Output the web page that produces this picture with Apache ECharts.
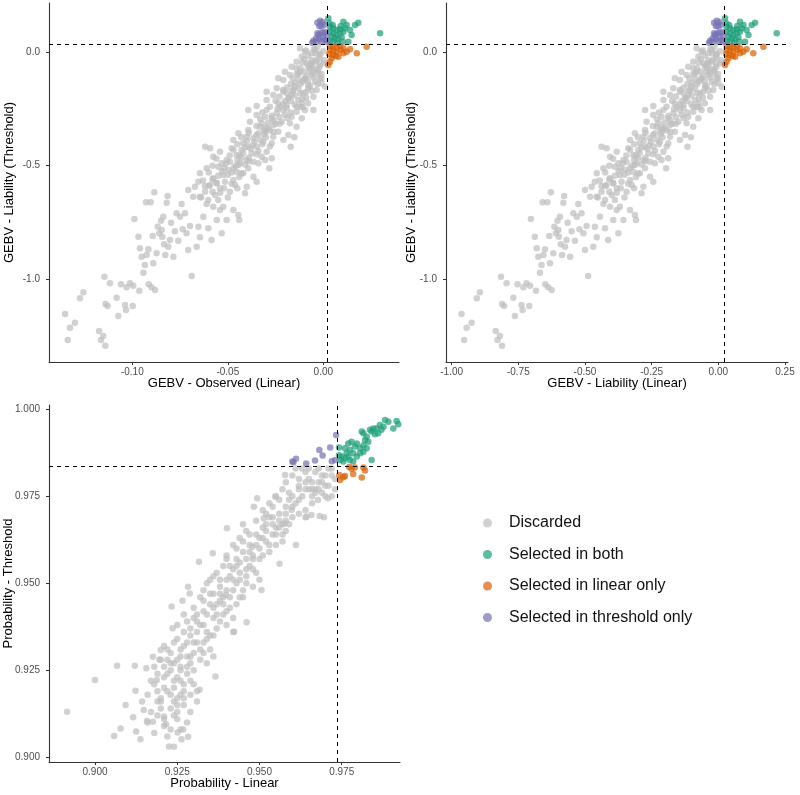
<!DOCTYPE html>
<html>
<head>
<meta charset="utf-8">
<script src="https://cdn.jsdelivr.net/npm/echarts@6/dist/echarts.min.js"></script>
<style>
  html, body { margin: 0; padding: 0; background: #fff; }
  #container { width: 800px; height: 795px; }
</style>
</head>
<body>
<div id="container"></div>
<script>
var groups = ['Discarded', 'Selected in both', 'Selected in linear only', 'Selected in threshold only'];

// GEBV per individual: [observed linear, liability linear, liability threshold]
var liabDiscarded = [
  [-0.1352,-0.963,-1.1544],[-0.1338,-0.953,-1.2691],[-0.1326,-0.944,-1.2147],[-0.1300,-0.925,-1.1926],
  [-0.1274,-0.906,-1.0853],[-0.1256,-0.894,-1.0588],[-0.1174,-0.835,-1.2294],[-0.1164,-0.828,-1.2691],
  [-0.1152,-0.819,-1.2515],[-0.1141,-0.811,-1.2941],[-0.1146,-0.815,-0.9897],[-0.1141,-0.811,-1.1103],
  [-0.1129,-0.803,-1.1191],[-0.1117,-0.794,-1.0191],[-0.1082,-0.769,-1.0824],[-0.1073,-0.763,-1.1632],
  [-0.1059,-0.753,-1.0235],[-0.1038,-0.738,-1.1147],[-0.1033,-0.734,-1.1368],[-0.1030,-0.731,-1.0368],
  [-0.1012,-0.719,-1.0191],[-0.0998,-0.709,-1.1191],[-0.0995,-0.706,-1.0294],[-0.0989,-0.703,-0.7353],
  [-0.0968,-0.688,-0.8132],[-0.0963,-0.684,-1.0515],[-0.0960,-0.681,-0.8647],[-0.0951,-0.675,-0.9015],
  [-0.0942,-0.669,-0.9721],[-0.0934,-0.663,-0.9382],[-0.0928,-0.659,-0.6618],[-0.0925,-0.656,-0.8941],
  [-0.0916,-0.650,-0.8691],[-0.0914,-0.649,-1.0235],[-0.0904,-0.641,-0.6618],[-0.0899,-0.638,-1.0368],
  [-0.0885,-0.628,-0.6176],[-0.0881,-0.625,-1.0485],[-0.0893,-0.634,-0.8103],[-0.0890,-0.631,-0.9309],
  [-0.0873,-0.619,-0.8868],[-0.0867,-0.615,-0.7691],[-0.0859,-0.609,-0.7985],[-0.0850,-0.603,-0.7426],
  [-0.0846,-0.600,-0.7838],[-0.0843,-0.598,-0.8132],[-0.0838,-0.594,-0.7250],[-0.0834,-0.591,-0.8471],
  [-0.0827,-0.586,-0.8941],[-0.0820,-0.581,-0.6632],[-0.0815,-0.578,-0.6338],[-0.0812,-0.575,-0.8574],
  [-0.0803,-0.569,-0.8279],[-0.0797,-0.565,-0.7515],[-0.0785,-0.556,-0.9015],[-0.0777,-0.550,-0.7897],
  [-0.0768,-0.544,-0.7103],[-0.0759,-0.538,-0.8309],[-0.0750,-0.531,-0.7250],[-0.0742,-0.525,-0.6691],
  [-0.0736,-0.521,-0.7809],[-0.0724,-0.513,-0.7103],[-0.0716,-0.506,-0.7985],[-0.0707,-0.500,-0.8721],
  [-0.0698,-0.494,-0.7662],[-0.0689,-0.488,-0.9868],[-0.0681,-0.481,-0.6368],[-0.0663,-0.469,-0.8574],
  [-0.0654,-0.463,-0.7691],[-0.0646,-0.456,-0.8162],[-0.0628,-0.444,-0.7250],[-0.0611,-0.431,-0.6691],
  [-0.0602,-0.425,-0.7765],[-0.0585,-0.413,-0.8279],[-0.0576,-0.406,-0.6809],[-0.0558,-0.394,-0.7397],
  [-0.0550,-0.388,-0.6515],[-0.0541,-0.381,-0.6956],[-0.0532,-0.375,-0.7985],[-0.0524,-0.369,-0.6809],
  [-0.0506,-0.356,-0.7397],[-0.0471,-0.331,-0.6956],[-0.0445,-0.313,-0.7176],[-0.0440,-0.309,-0.7397],
  [-0.0410,-0.288,-0.6221],
  [-0.0707,-0.500,-0.6074],[-0.0672,-0.475,-0.5926],[-0.0646,-0.456,-0.6368],[-0.0619,-0.438,-0.6147],
  [-0.0593,-0.419,-0.5853],[-0.0567,-0.400,-0.6294],[-0.0541,-0.381,-0.6000],[-0.0515,-0.363,-0.5706],
  [-0.0489,-0.344,-0.6147],[-0.0462,-0.325,-0.5853],[-0.0654,-0.463,-0.5706],[-0.0602,-0.425,-0.6515],
  [-0.0646,-0.456,-0.5338],[-0.0611,-0.431,-0.5118],[-0.0576,-0.406,-0.5559],[-0.0550,-0.388,-0.5044],
  [-0.0524,-0.369,-0.5412],[-0.0497,-0.350,-0.5191],[-0.0471,-0.331,-0.5632],[-0.0445,-0.313,-0.4971],
  [-0.0419,-0.294,-0.5338],[-0.0393,-0.275,-0.5118],[-0.0366,-0.256,-0.5485],[-0.0340,-0.238,-0.4897],
  [-0.0558,-0.394,-0.5779],[-0.0454,-0.319,-0.5265],[-0.0489,-0.344,-0.4824],
  [-0.0576,-0.406,-0.4603],[-0.0541,-0.381,-0.4382],[-0.0506,-0.356,-0.4750],[-0.0480,-0.338,-0.4235],
  [-0.0454,-0.319,-0.4529],[-0.0428,-0.300,-0.4309],[-0.0401,-0.281,-0.4750],[-0.0375,-0.263,-0.4456],
  [-0.0349,-0.244,-0.4162],[-0.0323,-0.225,-0.4603],[-0.0297,-0.206,-0.4382],[-0.0436,-0.306,-0.4897],
  [-0.0393,-0.275,-0.4162],[-0.0532,-0.375,-0.4897],[-0.0270,-0.188,-0.4676],[-0.0366,-0.256,-0.4824],
  [-0.0471,-0.331,-0.3868],[-0.0445,-0.313,-0.3574],[-0.0419,-0.294,-0.4015],[-0.0393,-0.275,-0.3426],
  [-0.0366,-0.256,-0.3794],[-0.0340,-0.238,-0.3574],[-0.0314,-0.219,-0.3941],[-0.0288,-0.200,-0.3353],
  [-0.0262,-0.181,-0.3721],[-0.0236,-0.163,-0.3500],[-0.0209,-0.144,-0.3868],[-0.0332,-0.231,-0.3279],
  [-0.0401,-0.281,-0.3721],[-0.0270,-0.188,-0.4015],[-0.0183,-0.125,-0.3647],[-0.0305,-0.213,-0.3500],
  [-0.0384,-0.269,-0.3059],[-0.0349,-0.244,-0.2765],[-0.0323,-0.225,-0.3132],[-0.0297,-0.206,-0.2544],
  [-0.0270,-0.188,-0.2912],[-0.0244,-0.169,-0.2691],[-0.0218,-0.150,-0.3059],[-0.0192,-0.131,-0.2471],
  [-0.0166,-0.113,-0.2838],[-0.0140,-0.094,-0.2618],[-0.0113,-0.075,-0.2912],[-0.0262,-0.181,-0.3206],
  [-0.0175,-0.119,-0.3132],[-0.0227,-0.156,-0.2397],[-0.0305,-0.213,-0.2838],[-0.0096,-0.063,-0.2544],
  [-0.0297,-0.206,-0.2103],[-0.0262,-0.181,-0.1882],[-0.0236,-0.163,-0.2250],[-0.0209,-0.144,-0.1735],
  [-0.0183,-0.125,-0.2029],[-0.0157,-0.106,-0.1662],[-0.0131,-0.088,-0.2103],[-0.0105,-0.069,-0.1809],
  [-0.0079,-0.050,-0.1588],[-0.0052,-0.031,-0.1956],[-0.0192,-0.131,-0.2324],[-0.0244,-0.169,-0.1588],
  [-0.0113,-0.075,-0.2250],[-0.0035,-0.019,-0.1662],[-0.0166,-0.113,-0.1882],
  [-0.0209,-0.144,-0.1221],[-0.0175,-0.119,-0.1000],[-0.0148,-0.100,-0.1368],[-0.0122,-0.081,-0.0853],
  [-0.0096,-0.063,-0.1147],[-0.0070,-0.044,-0.0706],[-0.0044,-0.025,-0.1294],[-0.0026,-0.013,-0.0926],
  [-0.0009,0.000,-0.1368],[-0.0140,-0.094,-0.0706],[-0.0079,-0.050,-0.1441],[-0.0052,-0.031,-0.0853],
  [-0.0166,-0.113,-0.0632],
  [-0.0140,-0.094,-0.0412],[-0.0113,-0.075,-0.0191],[-0.0087,-0.056,-0.0485],[-0.0061,-0.038,-0.0044],
  [-0.0035,-0.019,-0.0338],[-0.0017,-0.006,-0.0118],[0.0000,0.006,-0.0485],[-0.0096,-0.063,0.0029],
  [-0.0044,-0.025,0.0103],[-0.0070,-0.044,-0.0559],
  [-0.0619,-0.438,-0.4162],[-0.0593,-0.419,-0.4235],[-0.0393,-0.275,-0.2544],[-0.0349,-0.244,-0.2368],
  [-0.0297,-0.206,-0.1735],[-0.0236,-0.163,-0.1147],[-0.0201,-0.138,-0.0853],[-0.0122,-0.081,0.0176],
  [-0.0152,-0.103,-0.3750],[-0.0108,-0.071,-0.2426],[-0.0017,-0.006,-0.1147],[0.0009,0.013,-0.1515],
  [-0.0052,-0.031,-0.2544],[-0.0140,-0.094,-0.3279],[-0.0171,-0.116,-0.4162],[-0.0305,-0.213,-0.4750],
  [-0.0283,-0.196,-0.5118],[-0.0401,-0.281,-0.5926],[-0.0349,-0.244,-0.5706],
  [-0.0600,-0.424,-0.590],[-0.0560,-0.395,-0.575],[-0.0520,-0.366,-0.600],[-0.0630,-0.445,-0.565],
  [-0.0480,-0.338,-0.580],[-0.0580,-0.409,-0.615],
  [-0.0580,-0.409,-0.500],[-0.0560,-0.395,-0.470],[-0.0530,-0.374,-0.525],[-0.0510,-0.359,-0.490],
  [-0.0490,-0.345,-0.455],[-0.0470,-0.331,-0.510],[-0.0450,-0.316,-0.475],[-0.0430,-0.302,-0.535],
  [-0.0410,-0.288,-0.495],[-0.0390,-0.273,-0.465],[-0.0440,-0.309,-0.455],[-0.0500,-0.352,-0.540],
  [-0.0600,-0.424,-0.530],
  [-0.0470,-0.331,-0.430],[-0.0450,-0.316,-0.405],[-0.0420,-0.295,-0.445],[-0.0400,-0.280,-0.390],
  [-0.0380,-0.266,-0.425],[-0.0360,-0.252,-0.395],[-0.0340,-0.237,-0.435],[-0.0320,-0.223,-0.405],
  [-0.0300,-0.209,-0.375],[-0.0280,-0.194,-0.415],[-0.0350,-0.245,-0.365],[-0.0390,-0.273,-0.355],
  [-0.0430,-0.302,-0.375],
  [-0.0350,-0.245,-0.325],[-0.0330,-0.230,-0.295],[-0.0310,-0.216,-0.340],[-0.0290,-0.202,-0.310],
  [-0.0270,-0.187,-0.280],[-0.0250,-0.173,-0.315],[-0.0230,-0.159,-0.285],[-0.0210,-0.144,-0.255],
  [-0.0190,-0.130,-0.290],[-0.0170,-0.116,-0.265],[-0.0280,-0.194,-0.345],[-0.0320,-0.223,-0.265],
  [-0.0250,-0.173,-0.215],[-0.0230,-0.159,-0.195],[-0.0210,-0.144,-0.230],[-0.0190,-0.130,-0.180],
  [-0.0170,-0.116,-0.215],[-0.0150,-0.101,-0.190],[-0.0130,-0.087,-0.160],[-0.0110,-0.073,-0.205],
  [-0.0090,-0.058,-0.175],[-0.0070,-0.044,-0.150],[-0.0140,-0.094,-0.240],[-0.0210,-0.144,-0.165],
  [-0.0160,-0.109,-0.115],[-0.0130,-0.087,-0.095],[-0.0110,-0.073,-0.130],[-0.0090,-0.058,-0.105],
  [-0.0070,-0.044,-0.085],[-0.0050,-0.030,-0.110],[-0.0030,-0.015,-0.080],[-0.0010,-0.001,-0.095],
  [-0.0120,-0.080,-0.070],[-0.0060,-0.037,-0.060],[-0.0020,-0.008,-0.055],
  [-0.0100,-0.066,-0.030],[-0.0080,-0.051,-0.015],[-0.0060,-0.037,-0.035],[-0.0040,-0.023,-0.005],
  [-0.0020,-0.008,-0.025],[0.0000,0.006,0.005],[-0.0050,-0.030,0.015],[-0.0090,-0.058,0.008],
  [-0.0030,-0.015,0.025],[0.0005,0.010,-0.035],
  [-0.0120,-0.080,-0.140],[-0.0100,-0.066,-0.120],[-0.0080,-0.051,-0.125],[-0.0060,-0.037,-0.100],
  [-0.0040,-0.023,-0.075],[-0.0020,-0.008,-0.065],[-0.0150,-0.101,-0.150],[-0.0130,-0.087,-0.120],
  [-0.0100,-0.066,-0.085],[-0.0080,-0.051,-0.060],[-0.0060,-0.037,-0.045],[-0.0040,-0.023,-0.040],
  [-0.0020,-0.008,-0.005],[-0.0110,-0.073,-0.045],[-0.0140,-0.094,-0.095],[-0.0170,-0.116,-0.140],
  [-0.0190,-0.130,-0.155],[-0.0160,-0.109,-0.170],[-0.0120,-0.080,-0.180],[-0.0090,-0.058,-0.200],
  [-0.0060,-0.037,-0.170],[-0.0030,-0.015,-0.140],[-0.0010,-0.001,-0.115],[-0.0180,-0.123,-0.200],
  [-0.0200,-0.137,-0.215],[-0.0150,-0.101,-0.230],[-0.0120,-0.080,-0.240],[-0.0080,-0.051,-0.225],
  [-0.0230,-0.159,-0.315],[-0.0260,-0.180,-0.300],[-0.0300,-0.209,-0.330],[-0.0200,-0.137,-0.275],
  [-0.0240,-0.166,-0.250],[-0.0280,-0.194,-0.240],[-0.0330,-0.230,-0.385],[-0.0370,-0.259,-0.410],
  [-0.0410,-0.288,-0.420],[-0.0310,-0.216,-0.360],[-0.0260,-0.180,-0.350],[-0.0350,-0.245,-0.450],
  [-0.0390,-0.273,-0.480],[-0.0430,-0.302,-0.465],[-0.0460,-0.323,-0.500],[-0.0520,-0.366,-0.510],
  [-0.0550,-0.388,-0.545],[-0.0480,-0.338,-0.530],[-0.0440,-0.309,-0.550],[-0.0580,-0.409,-0.560],
  [-0.0620,-0.438,-0.590],[-0.0540,-0.381,-0.620],[-0.0500,-0.352,-0.640],[-0.0640,-0.452,-0.640],
  [-0.0450,-0.316,-0.600]
];

var liabBoth = [
  [0.0026,0.025,0.1500],[0.0105,0.081,0.1353],[0.0122,0.094,0.1206],[0.0166,0.125,0.1206],
  [0.0183,0.138,0.1309],[0.0148,0.113,0.0765],[0.0131,0.100,0.0471],[0.0297,0.219,0.0838],
  [0.0035,0.031,0.1132],[0.0052,0.044,0.1059],[0.0070,0.056,0.0985],[0.0087,0.069,0.1015],
  [0.0035,0.031,0.0912],[0.0052,0.044,0.0838],[0.0070,0.056,0.0765],[0.0087,0.069,0.0838],
  [0.0105,0.081,0.0912],[0.0044,0.038,0.0691],[0.0061,0.050,0.0618],[0.0079,0.063,0.0574],
  [0.0096,0.075,0.0662],[0.0035,0.031,0.0515],[0.0052,0.044,0.0471],[0.0073,0.059,0.0426],
  [0.0101,0.079,0.0471],[0.0031,0.029,0.1279],[0.0049,0.041,0.1206],[0.0113,0.088,0.1059],
  [0.0140,0.106,0.0985],[0.0091,0.071,0.1162]
];

var liabLinOnly = [
  [0.0227,0.169,0.0250],[0.0175,0.131,-0.0044],[0.0122,0.094,0.0029],[0.0105,0.081,-0.0044],
  [0.0079,0.063,-0.0191],[0.0035,0.031,-0.0412],[0.0026,0.025,-0.0559],[0.0035,0.031,0.0279],
  [0.0052,0.044,0.0250],[0.0070,0.056,0.0221],[0.0087,0.069,0.0279],[0.0035,0.031,0.0103],
  [0.0052,0.044,0.0074],[0.0070,0.056,0.0029],[0.0091,0.071,0.0103],[0.0031,0.029,-0.0074],
  [0.0049,0.041,-0.0118],[0.0066,0.054,-0.0162],[0.0044,0.038,-0.0265],[0.0105,0.081,0.0176],
  [0.0140,0.106,0.0132]
];

var liabThrOnly = [
  [-0.0031,-0.016,0.1309],[-0.0017,-0.006,0.1397],[-0.0003,0.004,0.1338],[0.0005,0.010,0.1221],
  [-0.0021,-0.009,0.1162],[-0.0009,0.000,0.1132],[-0.0052,-0.031,0.0515],[-0.0038,-0.021,0.0618],
  [-0.0026,-0.013,0.0765],[-0.0014,-0.004,0.0838],[0.0000,0.006,0.0868],[0.0014,0.016,0.0897],
  [0.0017,0.019,0.0721],[-0.0003,0.004,0.0662],[-0.0021,-0.009,0.0574],[-0.0038,-0.021,0.0471],
  [0.0009,0.013,0.0544],[0.0017,0.019,0.0471],[-0.0009,0.000,0.0471],[-0.0031,-0.016,0.0838],
  [-0.0058,-0.035,0.0426]
];

// probabilities per individual: [linear, threshold]
var probDiscarded = [
  [0.8915,0.9131],[0.9000,0.9222],[0.9067,0.9263],[0.9058,0.9061],[0.9078,0.9083],[0.9093,0.9150],
  [0.9116,0.9115],[0.9121,0.9263],[0.9123,0.9191],[0.9125,0.9074],[0.9138,0.9052],[0.9143,0.9160],
  [0.9148,0.9136],[0.9156,0.9256],[0.9158,0.9104],[0.9176,0.9289],[0.9176,0.9102],[0.9180,0.9260],
  [0.9188,0.9222],[0.9196,0.9281],[0.9200,0.9308],[0.9210,0.9117],[0.9216,0.9095],[0.9225,0.9031],
  [0.9233,0.9433],[0.9236,0.9371],[0.9251,0.9071],[0.9263,0.9052],[0.9266,0.9450],[0.9268,0.9080],
  [0.9283,0.9059],[0.9283,0.9490],[0.9288,0.9471],[0.9316,0.9562],[0.9318,0.9194],[0.9358,0.9586],
  [0.9366,0.9232],[0.9398,0.9466],[0.9401,0.9658],[0.9423,0.9361],[0.9461,0.9388],[0.9478,0.9605],
  [0.9483,0.9720],[0.9493,0.9744],[0.9506,0.9481],[0.9513,0.9687],[0.9548,0.9749],[0.9561,0.9556],
  [0.9576,0.9672],[0.9578,0.9811],[0.9598,0.9711],[0.9611,0.9610],[0.9643,0.9691],[0.9658,0.9696],
  [0.9683,0.9693],[0.9696,0.9690],[0.9708,0.9744],[0.9678,0.9739],
  [0.919,0.912],[0.921,0.909],[0.923,0.914],[0.925,0.911],[0.927,0.915],[0.922,0.906],[0.926,0.908],
  [0.929,0.913],[0.924,0.903],[0.917,0.913],[0.920,0.916],
  [0.916,0.918],[0.918,0.921],[0.920,0.917],[0.921,0.923],[0.922,0.919],[0.923,0.925],[0.924,0.920],
  [0.925,0.917],[0.926,0.922],[0.927,0.919],[0.928,0.924],[0.929,0.918],[0.930,0.921],[0.919,0.924],
  [0.931,0.916],[0.924,0.916],[0.922,0.928],
  [0.920,0.928],[0.921,0.932],[0.923,0.930],[0.924,0.927],[0.925,0.934],[0.926,0.929],[0.927,0.932],
  [0.928,0.926],[0.929,0.935],[0.930,0.930],[0.932,0.928],[0.933,0.933],[0.935,0.931],[0.931,0.936],
  [0.934,0.927],[0.926,0.925],
  [0.925,0.938],[0.927,0.941],[0.929,0.937],[0.930,0.943],[0.931,0.939],[0.933,0.942],[0.934,0.936],
  [0.935,0.944],[0.936,0.940],[0.937,0.937],[0.938,0.945],[0.939,0.941],[0.940,0.938],[0.941,0.943],
  [0.932,0.946],[0.942,0.936],
  [0.933,0.948],[0.935,0.951],[0.936,0.947],[0.937,0.953],[0.938,0.949],[0.939,0.955],[0.940,0.951],
  [0.941,0.946],[0.942,0.954],[0.943,0.950],[0.944,0.956],[0.945,0.948],[0.946,0.952],[0.947,0.955],
  [0.948,0.949],[0.940,0.957],[0.949,0.953],
  [0.940,0.958],[0.942,0.961],[0.943,0.957],[0.944,0.963],[0.945,0.959],[0.946,0.965],[0.947,0.961],
  [0.948,0.958],[0.949,0.964],[0.950,0.960],[0.951,0.966],[0.952,0.962],[0.953,0.959],[0.954,0.964],
  [0.955,0.961],[0.956,0.966],[0.945,0.967],
  [0.949,0.968],[0.951,0.971],[0.952,0.967],[0.953,0.973],[0.954,0.969],[0.955,0.975],[0.956,0.970],
  [0.957,0.967],[0.958,0.972],[0.959,0.976],[0.960,0.969],[0.961,0.973],[0.962,0.970],[0.963,0.975],
  [0.964,0.971],[0.965,0.977],[0.957,0.977],
  [0.958,0.979],[0.960,0.981],[0.962,0.978],[0.963,0.983],[0.965,0.980],[0.966,0.977],[0.967,0.982],
  [0.968,0.979],[0.969,0.976],[0.970,0.981],[0.971,0.978],[0.972,0.983],[0.972,0.975],[0.973,0.980],
  [0.961,0.983],[0.968,0.983],[0.973,0.977],
  [0.918,0.907],[0.921,0.911],[0.925,0.913],[0.928,0.910],[0.923,0.908],[0.916,0.910],
  [0.917,0.922],[0.919,0.919],[0.921,0.920],[0.923,0.918],[0.925,0.923],[0.927,0.921],[0.929,0.922],
  [0.931,0.919],[0.922,0.924],[0.926,0.918],
  [0.922,0.931],[0.924,0.933],[0.926,0.931],[0.928,0.929],[0.930,0.933],[0.932,0.931],[0.934,0.934],
  [0.936,0.929],[0.929,0.927],[0.925,0.928],
  [0.928,0.939],[0.930,0.940],[0.932,0.938],[0.934,0.941],[0.936,0.943],[0.938,0.939],[0.940,0.942],
  [0.942,0.940],[0.937,0.944],[0.933,0.945],[0.943,0.944],
  [0.934,0.950],[0.936,0.952],[0.938,0.951],[0.940,0.948],[0.942,0.951],[0.944,0.953],[0.946,0.950],
  [0.948,0.954],[0.950,0.951],[0.941,0.955],[0.945,0.946],
  [0.943,0.960],[0.945,0.962],[0.947,0.964],[0.949,0.961],[0.951,0.963],[0.953,0.961],[0.955,0.964],
  [0.957,0.962],[0.950,0.957],[0.946,0.957],[0.958,0.965],
  [0.952,0.970],[0.954,0.972],[0.956,0.974],[0.958,0.970],[0.960,0.972],[0.962,0.974],[0.964,0.969],
  [0.966,0.973],[0.959,0.967],[0.967,0.976],[0.955,0.966],
  [0.962,0.980],[0.964,0.982],[0.966,0.979],[0.969,0.981],[0.970,0.978],[0.972,0.981],[0.967,0.977],
  [0.964,0.977],
  [0.920,0.914],[0.924,0.912],[0.927,0.917],[0.924,0.922],[0.921,0.926],[0.926,0.926],[0.929,0.929],
  [0.927,0.936],[0.931,0.933],[0.933,0.938],[0.935,0.935],[0.937,0.941],[0.939,0.944],[0.935,0.947],
  [0.939,0.946],[0.942,0.948],[0.944,0.951],[0.946,0.954],[0.943,0.955],[0.948,0.957],[0.950,0.963],
  [0.952,0.965],[0.954,0.967],[0.956,0.968],[0.958,0.968],[0.960,0.975],[0.962,0.977],[0.964,0.979],
  [0.966,0.975],[0.968,0.977],[0.970,0.975],[0.971,0.983],[0.969,0.979],[0.965,0.983],[0.959,0.974],
  [0.953,0.969],[0.947,0.959],[0.941,0.952],[0.938,0.947],[0.931,0.941],[0.928,0.933],[0.923,0.927],
  [0.919,0.916],[0.925,0.915],[0.930,0.925],[0.933,0.930],[0.936,0.935],[0.944,0.946],[0.951,0.958],
  [0.957,0.964]
];

var probBoth = [
  [0.9882,0.9969],[0.9892,0.9964],[0.9917,0.9966],[0.9922,0.9957],[0.9907,0.9945],[0.9877,0.9950],
  [0.9866,0.9955],[0.9856,0.9945],[0.9846,0.9945],[0.9841,0.9936],[0.9836,0.9941],[0.9851,0.9928],
  [0.9871,0.9941],[0.9861,0.9931],[0.9826,0.9921],[0.9816,0.9931],[0.9811,0.9936],[0.9821,0.9912],
  [0.9831,0.9907],[0.9816,0.9897],[0.9806,0.9888],[0.9796,0.9902],[0.9790,0.9893],[0.9780,0.9907],
  [0.9770,0.9902],[0.9775,0.9883],[0.9785,0.9874],[0.9796,0.9864],[0.9806,0.9874],[0.9765,0.9874],
  [0.9760,0.9859],[0.9770,0.9864],[0.9755,0.9850],[0.9745,0.9854],[0.9750,0.9864],[0.9760,0.9888],
  [0.9841,0.9854],[0.9775,0.9854],[0.9785,0.9850],[0.9826,0.9888],[0.9816,0.9878],[0.9742,0.9890],
  [0.9742,0.9868]
];

var probLinOnly = [
  [0.9745,0.9797],[0.9755,0.9805],[0.9760,0.9808],[0.9780,0.9829],[0.9785,0.9814],[0.9811,0.9804],
  [0.9816,0.9833],[0.9821,0.9824],[0.9773,0.9834],[0.9743,0.9811],[0.9790,0.9833]
];

var probThrOnly = [
  [0.9603,0.9848],[0.9611,0.9858],[0.9642,0.9844],[0.9669,0.9853],[0.9682,0.9883],[0.9692,0.9867],
  [0.9715,0.9890],[0.9720,0.9851],[0.9733,0.9926],[0.9730,0.9854],[0.9600,0.9850]
];

// selection cut-offs (dashed lines)
var cutObsLin = 0.00215, cutLiabLin = 0.02125, cutLiabThr = 0.0368;
var cutProbLin = 0.97366, cutProbThr = 0.98371;

// tick labels
var ticksObsLin = [-0.10, -0.05, 0.00];
var ticksLiabLin = [-1.00, -0.75, -0.50, -0.25, 0.00, 0.25];
var ticksLiabThr = [-1.0, -0.5, 0.0];
var ticksProbLin = [0.900, 0.925, 0.950, 0.975];
var ticksProbThr = [0.900, 0.925, 0.950, 0.975, 1.000];

var dom = document.getElementById('container');
var myChart = echarts.init(dom, null, { renderer: 'canvas' });

var colors = ['#bebebe', '#1b9e77', '#d95f02', '#7570b3'];
var font = 'Liberation Sans, Arial, Helvetica, sans-serif';

function makeAxis(gi, min, max, ticks, digits, name, nameGap, isY) {
  return {
    type: 'value', gridIndex: gi, min: min, max: max,
    name: name, nameLocation: 'middle', nameGap: nameGap, nameMoveOverlap: false,
    nameTextStyle: { color: '#000', fontSize: 13, fontFamily: font },
    splitLine: { show: false },
    axisLine: { onZero: false, lineStyle: { color: '#333', width: 1.1 } },
    axisTick: { show: true, length: 3, customValues: ticks, lineStyle: { color: '#333' } },
    axisLabel: {
      customValues: ticks, color: '#4d4d4d', fontSize: 10, fontFamily: font,
      margin: isY ? 9 : 5,
      formatter: function (v) { return (+v).toFixed(digits); }
    }
  };
}

function dash(x, y) {
  return {
    silent: true, symbol: 'none', animation: false, precision: 6,
    label: { show: false },
    lineStyle: { color: '#000', type: [4, 4], width: 1 },
    data: [{ xAxis: x }, { yAxis: y }]
  };
}

function pts(name, gi, data, color, mark) {
  var s = {
    type: 'scatter', name: name, xAxisIndex: gi, yAxisIndex: gi,
    data: data, symbolSize: 6.5,
    itemStyle: { color: color, opacity: 0.7 },
    emphasis: { disabled: true }
  };
  if (mark) s.markLine = mark;
  return s;
}

var sets12 = [liabDiscarded, liabBoth, liabLinOnly, liabThrOnly];
var sets3 = [probDiscarded, probBoth, probLinOnly, probThrOnly];
var series = [];
groups.forEach(function (g, i) {
  series.push(pts(g, 0, sets12[i].map(function (p) { return [p[0], p[2]]; }), colors[i],
    i === 3 ? dash(cutObsLin, cutLiabThr) : null));
});
groups.forEach(function (g, i) {
  series.push(pts(g, 1, sets12[i].map(function (p) { return [p[1], p[2]]; }), colors[i],
    i === 3 ? dash(cutLiabLin, cutLiabThr) : null));
});
groups.forEach(function (g, i) {
  series.push(pts(g, 2, sets3[i], colors[i],
    i === 3 ? dash(cutProbLin, cutProbThr) : null));
});

var option = {
  animation: false,
  textStyle: { fontFamily: font },
  grid: [
    { left: 49, top: 3, width: 350, height: 359, outerBoundsMode: 'none' },
    { left: 446, top: 3, width: 342, height: 359, outerBoundsMode: 'none' },
    { left: 49, top: 405, width: 351, height: 357, outerBoundsMode: 'none' }
  ],
  xAxis: [
    makeAxis(0, -0.1436, 0.0396, ticksObsLin, 2, 'GEBV - Observed (Linear)', 15, false),
    makeAxis(1, -1.0212, 0.2612, ticksLiabLin, 2, 'GEBV - Liability (Linear)', 15, false),
    makeAxis(2, 0.88601, 0.99273, ticksProbLin, 3, 'Probability - Linear', 15, false)
  ],
  yAxis: [
    makeAxis(0, -1.3662, 0.2177, ticksLiabThr, 1, 'GEBV - Liability (Threshold)', 33, true),
    makeAxis(1, -1.3662, 0.2177, ticksLiabThr, 1, 'GEBV - Liability (Threshold)', 28, true),
    makeAxis(2, 0.89865, 1.00123, ticksProbThr, 3, 'Probability - Threshold', 34, true)
  ],
  legend: {
    orient: 'vertical', left: 478, top: 510,
    icon: 'circle', itemWidth: 9, itemHeight: 9, itemGap: 15.5,
    textStyle: { fontSize: 16, color: '#111', lineHeight: 16, padding: [0, 0, 0, 12] },
    data: groups
  },
  series: series
};

myChart.setOption(option);
window.addEventListener('resize', myChart.resize);
</script>
</body>
</html>
